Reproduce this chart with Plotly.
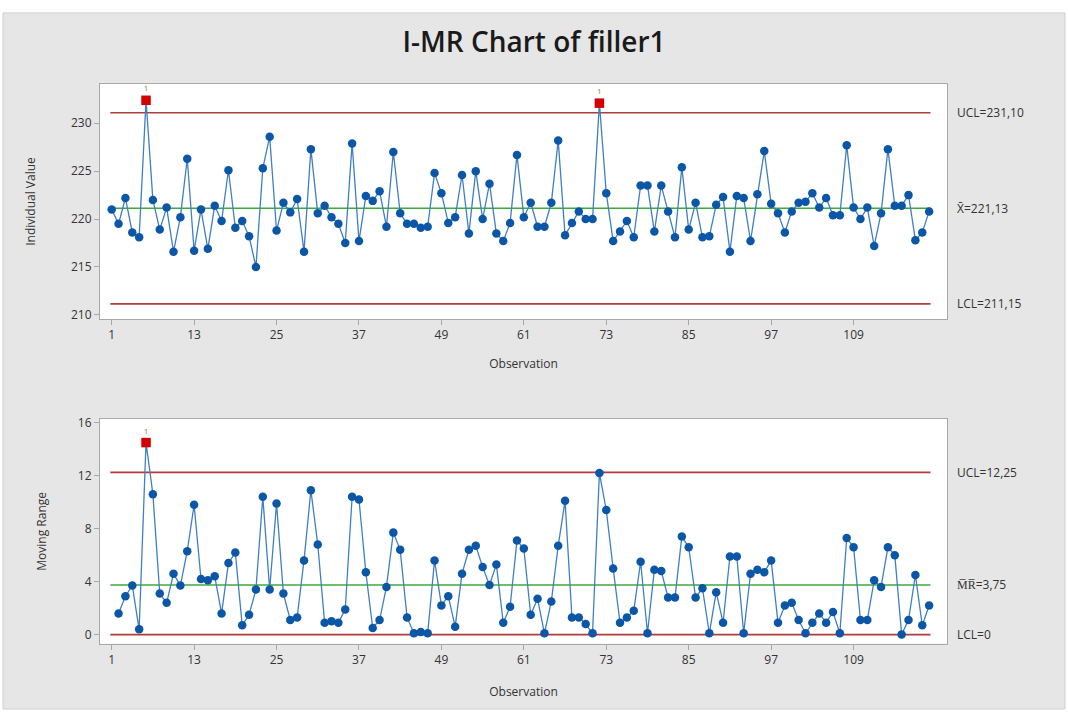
import plotly.graph_objects as go

observations = list(range(1, 121))
individual_values = [
    221.0, 219.5, 222.2, 218.6, 218.1, 232.4, 222.0, 218.9, 221.2, 216.6,
    220.2, 226.3, 216.7, 221.0, 216.9, 221.4, 219.8, 225.1, 219.1, 219.8,
    218.2, 215.0, 225.3, 228.6, 218.8, 221.7, 220.7, 222.1, 216.6, 227.3,
    220.6, 221.4, 220.2, 219.5, 217.5, 227.9, 217.7, 222.4, 221.9, 222.9,
    219.2, 227.0, 220.6, 219.5, 219.5, 219.1, 219.2, 224.8, 222.7, 219.6,
    220.2, 224.6, 218.5, 225.0, 220.0, 223.7, 218.5, 217.7, 219.6, 226.7,
    220.2, 221.7, 219.2, 219.2, 221.7, 228.2, 218.3, 219.6, 220.8, 220.0,
    220.0, 232.1, 222.7, 217.7, 218.7, 219.8, 218.1, 223.5, 223.5, 218.7,
    223.5, 220.8, 218.1, 225.4, 218.9, 221.7, 218.1, 218.2, 221.5, 222.3,
    216.6, 222.4, 222.2, 217.7, 222.6, 227.1, 221.6, 220.6, 218.6, 220.8,
    221.7, 221.8, 222.7, 221.2, 222.2, 220.4, 220.4, 227.7, 221.2, 220.0,
    221.2, 217.2, 220.6, 227.3, 221.4, 221.4, 222.5, 217.8, 218.6, 220.8,
]
mr_observations = list(range(2, 121))
moving_ranges = [
    1.6, 2.9, 3.7, 0.4, 14.5, 10.6, 3.1, 2.4, 4.6,
    3.7, 6.3, 9.8, 4.2, 4.1, 4.4, 1.6, 5.4, 6.2, 0.7,
    1.5, 3.4, 10.4, 3.4, 9.9, 3.1, 1.1, 1.3, 5.6, 10.9,
    6.8, 0.9, 1.0, 0.9, 1.9, 10.4, 10.2, 4.7, 0.5, 1.1,
    3.6, 7.7, 6.4, 1.3, 0.1, 0.2, 0.1, 5.6, 2.2, 2.9,
    0.6, 4.6, 6.4, 6.7, 5.1, 3.75, 5.3, 0.9, 2.1, 7.1,
    6.5, 1.5, 2.7, 0.1, 2.5, 6.7, 10.1, 1.3, 1.3, 0.8,
    0.1, 12.2, 9.4, 5.0, 0.9, 1.3, 1.8, 5.5, 0.1, 4.9,
    4.8, 2.8, 2.8, 7.4, 6.6, 2.8, 3.5, 0.1, 3.2, 0.9,
    5.9, 5.9, 0.1, 4.6, 4.9, 4.7, 5.6, 0.9, 2.2, 2.4,
    1.1, 0.1, 0.9, 1.6, 0.9, 1.7, 0.1, 7.3, 6.6, 1.1,
    1.1, 4.1, 3.6, 6.6, 6.0, 0.0, 1.1, 4.5, 0.7, 2.2,
]
x_ticks = [1, 13, 25, 37, 49, 61, 73, 85, 97, 109]
i_ticks = [210, 215, 220, 225, 230]
mr_ticks = [0, 4, 8, 12, 16]
i_limits = {"UCL": 231.10, "CL": 221.13, "LCL": 211.15}
mr_limits = {"UCL": 12.25, "CL": 3.75, "LCL": 0.0}
i_labels = {"UCL": "UCL=231,10", "CL": "X\u0304=221,13", "LCL": "LCL=211,15"}
mr_labels = {"UCL": "UCL=12,25", "CL": "M\u0305R\u0305=3,75", "LCL": "LCL=0"}
i_flagged = [6, 72]
mr_flagged = [6]

W, H = 1068, 716
BLUE_LINE = "#3f7fc4"
BLUE_MARK = "#0b56a6"
RED = "#b23b3b"
GREEN = "#3daa3d"
FONT = "Open Sans"
TXT = "#333333"

fig = go.Figure()

def add_chart(xs, ys, limits, labels, flagged, xa, ya):
    x0, x1 = 0.8, 120.2
    for key, col in (("UCL", RED), ("CL", GREEN), ("LCL", RED)):
        fig.add_trace(go.Scatter(x=[x0, x1], y=[limits[key]] * 2, mode="lines",
                                 line=dict(color=col, width=1.6), xaxis=xa, yaxis=ya,
                                 hoverinfo="skip", showlegend=False))
    fig.add_trace(go.Scatter(x=xs, y=ys, mode="lines+markers",
                             line=dict(color=BLUE_LINE, width=1.3),
                             marker=dict(color=BLUE_MARK, size=8.5, symbol="circle"),
                             xaxis=xa, yaxis=ya, showlegend=False))
    fx = [x for x in xs if x in flagged]
    fy = [ys[xs.index(x)] for x in fx]
    fig.add_trace(go.Scatter(x=fx, y=fy, mode="markers+text", text=["1"] * len(fx),
                             textposition="top center",
                             textfont=dict(size=8, color="#8c7a4a", family=FONT),
                             marker=dict(color="#d40000", size=9.5, symbol="square"),
                             xaxis=xa, yaxis=ya, showlegend=False, cliponaxis=False))
    for key in ("UCL", "CL", "LCL"):
        fig.add_annotation(text=labels[key], xref="paper", x=955 / W, xanchor="left",
                           yref=ya.replace("axis", ""), y=limits[key], yanchor="middle",
                           showarrow=False, font=dict(size=12, color=TXT, family=FONT))

add_chart(observations, individual_values, i_limits, i_labels, i_flagged, "x", "y")
add_chart(mr_observations, moving_ranges, mr_limits, mr_labels, mr_flagged, "x2", "y2")

xdom = [100 / W, 947 / W]
axis_common = dict(showline=True, mirror=True, linecolor="#a8a8a8", linewidth=1,
                   ticks="outside", ticklen=5, tickcolor="#a8a8a8", showgrid=False,
                   zeroline=False, tickfont=dict(size=12, color=TXT, family=FONT))
fig.update_layout(
    width=W, height=H,
    margin=dict(l=0, r=0, t=0, b=0),
    paper_bgcolor="white",
    plot_bgcolor="white",
    font=dict(family=FONT, color=TXT),
    title=dict(text="I-MR Chart of filler1", x=0.5, xanchor="center",
               y=1 - 42 / H, yanchor="middle",
               font=dict(size=28, color="#1a1a1a", family=FONT, weight=600)),
    xaxis=dict(domain=xdom, range=[-0.7, 122.6], tickvals=x_ticks, anchor="y",
               title=dict(text="Observation", font=dict(size=12, color=TXT), standoff=17),
               **axis_common),
    yaxis=dict(domain=[1 - 318 / H, 1 - 80 / H], range=[209.57, 234.1], tickvals=i_ticks,
               anchor="x", title=dict(text="Individual Value", font=dict(size=12, color=TXT), standoff=32),
               **axis_common),
    xaxis2=dict(domain=xdom, range=[-0.7, 122.6], tickvals=x_ticks, anchor="y2",
                title=dict(text="Observation", font=dict(size=12, color=TXT), standoff=20),
                **axis_common),
    yaxis2=dict(domain=[1 - 647 / H, 1 - 419 / H], range=[-0.7, 16.3], tickvals=mr_ticks,
                anchor="x2", title=dict(text="Moving Range", font=dict(size=12, color=TXT), standoff=28),
                **axis_common),
    shapes=[
        dict(type="rect", xref="paper", yref="paper", x0=3 / W, x1=1065 / W, y0=1 - 713 / H, y1=1 - 8 / H,
             fillcolor="#e6e6e6", line=dict(color="#cfcfcf", width=1), layer="below"),
        dict(type="rect", xref="x domain", yref="y domain", x0=0, x1=1, y0=0, y1=1,
             fillcolor="white", line=dict(width=0), layer="below"),
        dict(type="rect", xref="x2 domain", yref="y2 domain", x0=0, x1=1, y0=0, y1=1,
             fillcolor="white", line=dict(width=0), layer="below"),
    ],
)

fig.write_html("out.html", config={"displayModeBar": False},
               post_script="document.body.style.margin='0';")
